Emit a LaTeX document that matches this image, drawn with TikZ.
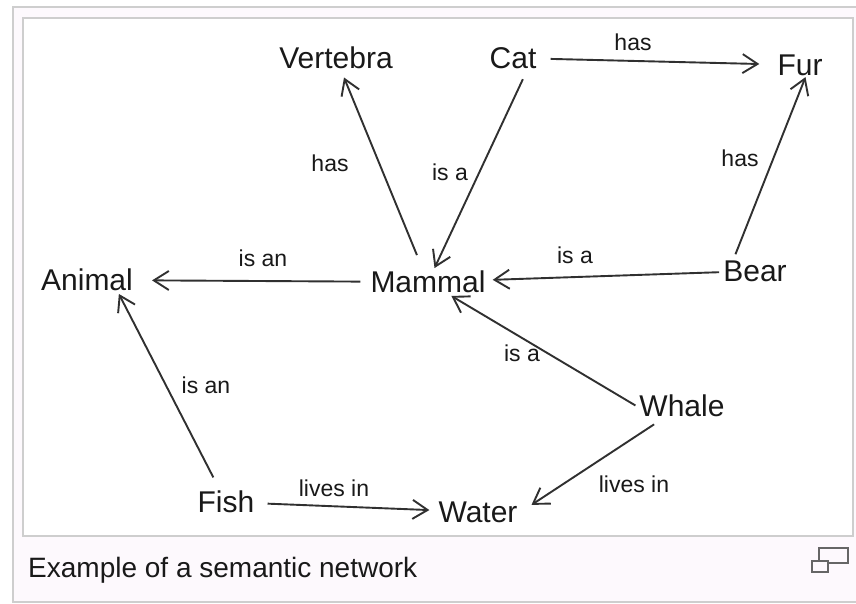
\documentclass[tikz,border=0pt]{standalone}
\usepackage{fontspec}
\setmainfont{Liberation Sans}
\usetikzlibrary{arrows.meta,calc}
\definecolor{capbg}{RGB}{253,249,253}
\definecolor{framecol}{RGB}{206,206,206}
\definecolor{ink}{RGB}{25,25,25}
\begin{document}
\begin{tikzpicture}[x=1pt,y=-1pt,
  concept/.style={inner sep=3pt, text=ink, font=\fontsize{30}{36}\selectfont, text height=21.5pt, text depth=0pt},
  rel/.style={inner sep=1pt, text=ink, font=\fontsize{23}{28}\selectfont, text height=16.5pt, text depth=0pt},
  link/.style={draw=ink!90, line width=1.9pt, -{Straight Barb[length=15pt,width=19pt]}},
  framebox/.style={draw=framecol, line width=1.3pt},
  icon/.style={draw=black!60, line width=2pt},
]
\useasboundingbox (0,0) rectangle (856,604);
\clip (0,0) rectangle (856,604);
\fill[white] (0,0) rectangle (856,604);
\filldraw[framebox, fill=capbg] (13,7) rectangle (870,602);
\filldraw[framebox, fill=white] (23,18) rectangle (853,536);

% concepts
\node[concept] (Vertebra) at (336,58) {Vertebra};
\node[concept] (Cat) at (513,58) {Cat};
\node[concept] (Fur) at (800,65) {Fur};
\node[concept] (Animal) at (87,280) {Animal};
\node[concept] (Mammal) at (428,282) {Mammal};
\node[concept] (Bear) at (755,271) {Bear};
\node[concept] (Whale) at (682,406) {Whale};
\node[concept] (Fish) at (226,502) {Fish};
\node[concept] (Water) at (478,512) {Water};

% relation labels
\node[rel] (l1) at (633,42) {has};
\node[rel] (l2) at (330,163) {has};
\node[rel] (l3) at (450,172) {is a};
\node[rel] (l4) at (740,158) {has};
\node[rel] (l5) at (263,258) {is an};
\node[rel] (l6) at (575,255) {is a};
\node[rel] (l7) at (522,353) {is a};
\node[rel] (l8) at (206,385) {is an};
\node[rel] (l9) at (334,488) {lives in};
\node[rel] (l10) at (634,484) {lives in};

% connectors
\draw[link, shorten <=11pt, shorten >=15pt] (Cat) -- (Fur);
\draw[link, shorten <=7pt, shorten >=16pt] (Mammal) -- (Animal);
\draw[link, shorten <=1pt, shorten >=4pt] (Bear) -- (Mammal);
\draw[link, shorten <=10pt, shorten >=6pt] (Fish) -- (Water);
\draw[link, shorten <=8pt, shorten >=13pt] (Whale) -- (Water.east);
\draw[link, shorten <=1pt] (Whale.west) -- (Mammal);
\draw[link, shorten <=12pt] (Fish) -- ($(Animal.south)!0.65!(Animal.south east)$);
\draw[link, shorten <=14pt, shorten >=6pt] (Mammal) -- (Vertebra);
\draw[link, shorten <=8pt] ($(Cat.south)!0.5!(Cat.south east)$) -- (Mammal);
\draw[link, shorten <=18pt, shorten >=13pt] ($(Bear)!0.75!(Bear.west)$) -- ($(Fur)!0.4!(Fur.east)$);

% caption
\node[anchor=west, inner sep=0pt, text=ink, font=\fontsize{28}{34}\selectfont, text height=20pt, text depth=0pt] (caption) at (28,567) {Example of a semantic network};

% magnify icon
\draw[icon] (819,548) rectangle (848,563);
\filldraw[icon, fill=capbg] (812,561) rectangle (828,572);
\end{tikzpicture}
\end{document}
